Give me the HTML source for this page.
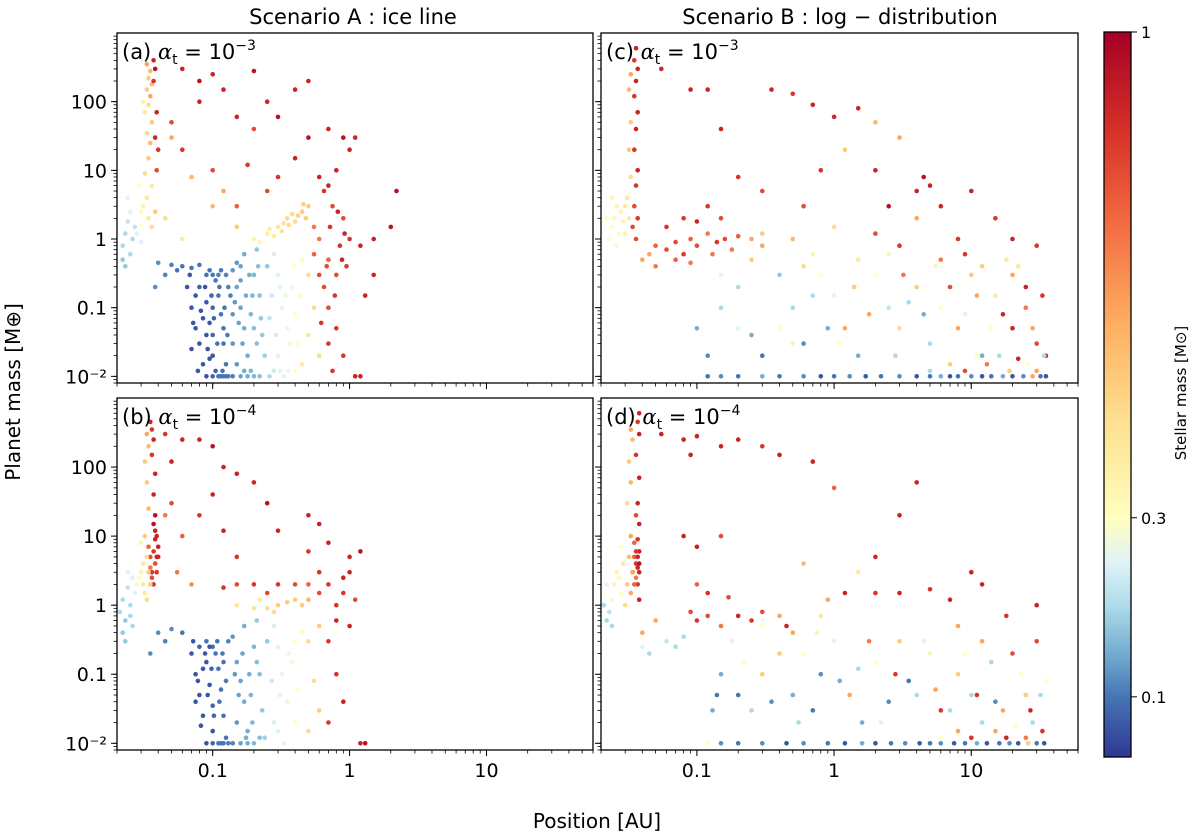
<!DOCTYPE html>
<html><head><meta charset="utf-8"><style>
html,body{margin:0;padding:0;background:#fff;}
svg{display:block;font-family:"DejaVu Sans","Liberation Sans",sans-serif;}
</style></head><body>
<svg id="chart" width="1200" height="840" viewBox="0 0 1200 840">
<text x="353" y="24" font-size="21" text-anchor="middle">Scenario A :  ice line</text>
<text x="840" y="24" font-size="21" text-anchor="middle">Scenario B :  log − distribution</text>
<text x="0" y="0" font-size="20" text-anchor="middle" transform="translate(20,392) rotate(-90)">Planet mass [M⊕]</text>
<text x="597" y="828" font-size="20" text-anchor="middle">Position [AU]</text>
<text x="0" y="0" font-size="15" text-anchor="middle" transform="translate(1186,393) rotate(-90)">Stellar mass [M⊙]</text>
<g id="layer"></g>
</svg>
<script>
// ---- data: [position AU, planet mass, stellar mass] ----
const panelA = [
[0.033,350,0.6],[0.035,280,0.55],[0.034,220,0.5],[0.036,180,0.55],[0.033,150,0.5],[0.035,120,0.6],[0.034,90,0.45],[0.032,70,0.4],[0.036,50,0.5],[0.033,35,0.45],[0.035,25,0.55],[0.034,15,0.5],[0.032,9,0.45],[0.036,6,0.4],[0.033,4,0.4],[0.031,3,0.35],[0.034,2,0.4],[0.03,1.6,0.3],[0.037,400,0.9],[0.038,300,0.95],[0.037,200,0.85],[0.039,70,0.9],[0.038,30,0.9],[0.04,20,0.85],[0.039,10,0.8],[0.036,1.5,0.45],[0.038,2.5,0.5],[0.03,0.9,0.25],[0.028,1.2,0.25],[0.03,2.5,0.32],[0.029,6,0.3],[0.031,100,0.35],
[0.022,0.8,0.2],[0.023,1.2,0.2],[0.024,1.8,0.22],[0.022,0.5,0.18],[0.025,2.5,0.25],[0.026,1,0.2],[0.023,0.4,0.18],[0.027,1.5,0.22],[0.025,0.6,0.2],[0.024,4,0.25],
[0.04,0.45,0.12],[0.05,0.42,0.11],[0.06,0.4,0.1],[0.045,0.3,0.11],[0.055,0.35,0.1],[0.07,0.38,0.1],[0.08,0.42,0.1],[0.038,0.2,0.12],
[0.065,0.2,0.09],[0.07,0.1,0.09],[0.075,0.05,0.09],[0.08,0.03,0.09],[0.085,0.015,0.09],[0.09,0.01,0.09],[0.08,0.2,0.095],[0.09,0.12,0.09],[0.095,0.06,0.09],[0.1,0.04,0.095],[0.1,0.02,0.09],[0.11,0.01,0.1],[0.12,0.01,0.1],[0.105,0.25,0.1],[0.11,0.15,0.1],[0.115,0.08,0.1],[0.12,0.03,0.1],[0.125,0.015,0.1],[0.13,0.2,0.11],[0.09,0.3,0.1],[0.1,0.3,0.1],[0.11,0.3,0.11],[0.075,0.15,0.09],[0.085,0.07,0.09],[0.095,0.018,0.09],[0.13,0.01,0.11],[0.14,0.01,0.11],[0.07,0.025,0.09],[0.09,0.04,0.09],[0.1,0.1,0.095],[0.12,0.05,0.1],[0.105,0.012,0.095],
[0.068,0.3,0.09],[0.072,0.06,0.09],[0.078,0.012,0.09],[0.082,0.09,0.09],[0.088,0.2,0.09],[0.092,0.025,0.09],[0.098,0.15,0.095],[0.102,0.07,0.095],[0.108,0.03,0.1],[0.112,0.2,0.1],[0.118,0.012,0.1],[0.122,0.1,0.1],[0.128,0.04,0.105],[0.135,0.15,0.11],[0.095,0.35,0.1],[0.115,0.35,0.105],[0.125,0.3,0.11],[0.1,0.01,0.095],[0.115,0.01,0.1],[0.125,0.01,0.1],
[0.14,0.35,0.13],[0.15,0.2,0.14],[0.16,0.1,0.14],[0.17,0.05,0.15],[0.18,0.02,0.15],[0.16,0.01,0.14],[0.18,0.01,0.15],[0.2,0.01,0.16],[0.2,0.3,0.16],[0.22,0.15,0.17],[0.19,0.08,0.16],[0.23,0.04,0.18],[0.25,0.4,0.18],[0.15,0.45,0.13],[0.17,0.6,0.15],[0.21,0.7,0.18],[0.24,0.02,0.19],[0.26,0.01,0.2],[0.14,0.03,0.13],[0.15,0.015,0.13],[0.16,0.25,0.14],[0.2,0.05,0.17],
[0.145,0.12,0.13],[0.155,0.06,0.14],[0.165,0.03,0.14],[0.175,0.15,0.15],[0.185,0.3,0.15],[0.195,0.15,0.16],[0.21,0.03,0.17],[0.215,0.4,0.17],[0.225,0.07,0.18],[0.17,0.012,0.15],[0.19,0.012,0.16],[0.22,0.01,0.17],[0.14,0.08,0.13],[0.16,0.4,0.14],
[0.3,0.3,0.25],[0.32,0.1,0.26],[0.35,0.05,0.27],[0.3,0.02,0.25],[0.33,0.01,0.26],[0.38,0.2,0.28],[0.4,0.08,0.3],[0.42,0.03,0.3],[0.28,0.6,0.24],[0.45,0.5,0.32],[0.36,0.012,0.27],[0.27,0.15,0.23],[0.4,0.012,0.3],
[0.26,0.07,0.22],[0.29,0.04,0.24],[0.31,0.2,0.25],[0.34,0.15,0.27],[0.37,0.03,0.28],[0.39,0.4,0.3],[0.43,0.15,0.31],[0.28,0.012,0.23],[0.31,0.012,0.25],
[0.2,1,0.35],[0.25,1.2,0.38],[0.3,1.5,0.42],[0.35,2,0.45],[0.4,1.8,0.45],[0.45,2.5,0.5],[0.5,3,0.5],[0.28,1.1,0.4],[0.38,2.3,0.45],[0.5,0.3,0.45],[0.55,0.1,0.45],[0.5,0.04,0.42],[0.6,0.02,0.45],[0.45,0.015,0.4],[0.33,1.7,0.42],
[0.22,0.9,0.33],[0.26,1.4,0.38],[0.32,1.3,0.42],[0.36,1.6,0.45],[0.42,2.2,0.48],[0.48,2,0.5],[0.46,3.2,0.5],
[0.6,1,0.7],[0.7,0.5,0.75],[0.8,0.3,0.8],[0.9,2,0.8],[1,1,0.85],[0.7,0.1,0.8],[0.8,0.05,0.85],[0.9,0.02,0.85],[1.1,0.01,0.9],[1.2,0.01,0.9],[0.65,5,0.85],[0.8,10,0.9],[1,20,0.9],[0.5,30,0.95],[0.6,8,0.9],[1.2,0.8,0.9],[1.5,1,0.9],[2,1.5,0.95],[2.2,5,0.95],[1.5,0.3,0.9],[0.75,3,0.8],[0.55,1.5,0.7],[0.95,0.4,0.85],[1.3,0.15,0.9],[0.55,0.6,0.75],[0.7,0.03,0.85],[0.85,0.8,0.85],[0.65,0.2,0.8],
[0.62,0.06,0.85],[0.68,0.4,0.8],[0.72,1.5,0.85],[0.78,0.15,0.85],[0.82,2.5,0.9],[0.88,0.5,0.9],[0.92,1.2,0.9],[0.75,0.012,0.85],[0.6,0.3,0.8],[0.7,6,0.9],
[0.06,300,0.9],[0.08,200,0.95],[0.1,250,0.9],[0.12,150,0.9],[0.15,60,0.9],[0.2,280,0.95],[0.25,100,0.9],[0.3,60,0.95],[0.4,150,0.9],[0.5,200,0.9],[0.7,40,0.9],[0.9,30,0.95],[0.06,20,0.85],[0.08,100,0.9],[0.18,12,0.85],[0.3,8,0.85],[0.4,15,0.9],[1.1,30,0.9],[0.2,40,0.8],[0.1,10,0.8],[0.15,3,0.75],[0.25,5,0.8],[0.05,50,0.8],
[0.05,30,0.6],[0.07,8,0.55],[0.1,3,0.55],[0.12,5,0.6],[0.15,1.5,0.5],[0.045,2,0.45],[0.06,1,0.4]
];
const panelB = [
[0.035,450,0.9],[0.036,350,0.85],[0.037,250,0.9],[0.036,150,0.85],[0.038,80,0.9],[0.037,40,0.9],[0.038,20,0.95],[0.039,10,0.9],[0.037,6,0.85],[0.038,4,0.8],[0.039,3,0.85],[0.036,2.5,0.8],[0.04,5,0.9],[0.038,12,0.9],[0.04,7,0.9],
[0.037,15,0.95],[0.038,9,0.9],[0.039,5,0.9],[0.036,3,0.85],[0.037,2,0.85],[0.035,5,0.8],[0.034,7,0.75],[0.035,3.5,0.7],
[0.033,300,0.6],[0.034,200,0.55],[0.032,120,0.5],[0.033,60,0.5],[0.034,25,0.55],[0.032,10,0.5],[0.033,5,0.45],[0.034,3,0.5],[0.031,2,0.4],[0.032,1.5,0.4],[0.035,2,0.5],[0.033,1.2,0.45],[0.03,3,0.35],[0.031,4,0.4],[0.03,8,0.35],[0.029,2.5,0.3],
[0.021,0.8,0.2],[0.022,1.2,0.2],[0.023,0.6,0.18],[0.024,1.8,0.22],[0.025,1,0.2],[0.026,2.5,0.25],[0.022,0.4,0.18],[0.023,0.3,0.18],[0.027,1.5,0.25],[0.025,0.7,0.2],[0.028,2,0.28],[0.026,0.5,0.2],[0.024,3,0.25],
[0.04,0.4,0.12],[0.05,0.45,0.12],[0.045,0.3,0.11],[0.06,0.4,0.1],[0.035,0.2,0.12],
[0.07,0.2,0.09],[0.075,0.1,0.09],[0.08,0.05,0.09],[0.085,0.025,0.09],[0.09,0.01,0.09],[0.08,0.25,0.095],[0.09,0.15,0.09],[0.095,0.07,0.09],[0.1,0.035,0.095],[0.1,0.015,0.09],[0.11,0.01,0.1],[0.12,0.01,0.1],[0.1,0.25,0.1],[0.11,0.12,0.1],[0.115,0.06,0.1],[0.12,0.025,0.1],[0.13,0.3,0.11],[0.09,0.3,0.1],[0.075,0.04,0.09],[0.085,0.12,0.09],[0.13,0.01,0.11],[0.105,0.2,0.1],[0.12,0.15,0.1],[0.14,0.01,0.11],
[0.072,0.3,0.09],[0.078,0.08,0.09],[0.082,0.018,0.09],[0.088,0.2,0.09],[0.092,0.05,0.09],[0.098,0.12,0.095],[0.102,0.025,0.095],[0.108,0.3,0.1],[0.112,0.04,0.1],[0.118,0.2,0.1],[0.125,0.08,0.105],[0.1,0.01,0.095],[0.115,0.01,0.1],[0.125,0.012,0.1],[0.095,0.25,0.09],
[0.14,0.35,0.13],[0.15,0.15,0.14],[0.16,0.08,0.14],[0.17,0.04,0.15],[0.18,0.015,0.15],[0.16,0.01,0.14],[0.2,0.01,0.16],[0.2,0.25,0.16],[0.22,0.1,0.17],[0.19,0.05,0.16],[0.23,0.03,0.18],[0.25,0.3,0.18],[0.17,0.5,0.15],[0.24,0.012,0.19],[0.15,0.02,0.13],[0.21,0.6,0.18],
[0.145,0.1,0.13],[0.155,0.05,0.14],[0.165,0.2,0.14],[0.175,0.012,0.15],[0.185,0.1,0.15],[0.195,0.02,0.16],[0.21,0.15,0.17],[0.22,0.012,0.17],[0.18,0.01,0.15],
[0.3,0.25,0.25],[0.32,0.1,0.26],[0.35,0.04,0.27],[0.3,0.015,0.25],[0.33,0.01,0.26],[0.38,0.15,0.28],[0.42,0.06,0.3],[0.28,0.5,0.24],[0.45,0.4,0.32],[0.4,0.02,0.3],
[0.27,0.08,0.23],[0.31,0.05,0.25],[0.36,0.2,0.27],[0.4,0.3,0.3],[0.28,0.02,0.24],
[0.15,1,0.4],[0.2,0.9,0.42],[0.25,0.9,0.45],[0.3,1,0.5],[0.35,1.1,0.5],[0.4,1.2,0.5],[0.5,1.2,0.55],[0.28,0.8,0.45],[0.22,1.2,0.4],[0.45,1,0.5],[0.5,0.3,0.45],[0.55,0.08,0.45],[0.6,0.03,0.5],[0.5,0.015,0.45],[0.6,0.5,0.5],
[0.5,2,0.75],[0.6,1.5,0.8],[0.7,2,0.85],[0.8,1,0.85],[0.9,2.5,0.9],[1,0.5,0.9],[0.7,0.3,0.85],[0.8,0.1,0.85],[0.9,0.04,0.9],[1.2,0.01,0.9],[1.3,0.01,0.95],[0.7,0.02,0.85],[1,3,0.9],[1.2,6,0.95],[0.9,1.5,0.85],[1.1,1.2,0.8],[0.4,2,0.8],[0.3,2,0.85],[0.25,1.5,0.8],[0.2,2,0.85],[0.15,2,0.8],[0.12,1.8,0.85],[0.6,3,0.85],[0.8,0.6,0.9],
[0.045,300,0.85],[0.05,120,0.9],[0.06,250,0.9],[0.08,250,0.9],[0.1,200,0.95],[0.12,100,0.9],[0.15,80,0.9],[0.2,60,0.9],[0.25,30,0.95],[0.3,12,0.9],[0.1,40,0.9],[0.08,20,0.85],[0.12,12,0.9],[0.5,20,0.9],[0.6,15,0.9],[0.7,8,0.9],[0.5,6,0.85],[1,5,0.9],[0.15,5,0.85],[0.05,30,0.8],[0.06,10,0.75],[0.055,3,0.7],[0.045,20,0.7],[0.07,2,0.65]
];
const panelC = [
[0.036,600,0.9],[0.035,400,0.85],[0.037,300,0.9],[0.036,200,0.9],[0.035,120,0.85],[0.037,70,0.9],[0.036,40,0.9],[0.035,20,0.85],[0.037,10,0.9],[0.036,6,0.85],[0.035,3,0.8],[0.037,2,0.85],[0.034,1.5,0.8],[0.036,1,0.8],[0.033,250,0.6],[0.032,150,0.55],[0.033,50,0.5],[0.032,20,0.5],[0.033,8,0.45],[0.031,4,0.4],[0.032,2,0.4],
[0.024,1.5,0.3],[0.025,2,0.32],[0.026,3,0.35],[0.027,1.2,0.3],[0.028,2.5,0.35],[0.023,1,0.28],[0.022,2,0.3],[0.029,1.8,0.35],[0.03,3,0.4],[0.024,4,0.35],[0.026,0.8,0.28],[0.03,1.2,0.35],
[0.045,0.6,0.6],[0.05,0.8,0.75],[0.06,0.7,0.8],[0.07,0.9,0.8],[0.08,0.6,0.85],[0.09,1,0.75],[0.1,0.8,0.8],[0.12,1.2,0.7],[0.14,0.9,0.85],[0.16,1,0.8],[0.2,1.1,0.75],[0.25,1,0.6],[0.3,1.2,0.5],[0.06,1.5,0.85],[0.08,2,0.85],[0.1,1.8,0.9],[0.12,3,0.85],[0.15,2,0.8],[0.05,0.4,0.7],[0.07,0.5,0.75],[0.09,0.45,0.7],[0.04,0.5,0.6],[0.13,0.6,0.7],[0.18,0.7,0.7],
[0.055,300,0.9],[0.09,150,0.9],[0.12,150,0.9],[0.15,40,0.9],[0.2,8,0.85],[0.35,150,0.9],[0.5,130,0.85],[0.7,90,0.9],[1,60,0.9],[1.5,80,0.9],[2,10,0.9],[2.5,3,0.95],[4,5,0.9],[5,6,0.9],[4.5,8,0.95],[6,3,0.9],[10,5,0.9],[20,1,0.9],[3,30,0.6],[2,50,0.55],[1.2,20,0.5],[0.8,10,0.85],[0.3,5,0.8],[0.6,3,0.8],
[0.1,0.05,0.15],[0.12,0.02,0.12],[0.15,0.1,0.2],[0.2,0.05,0.25],[0.3,0.02,0.1],[0.4,0.05,0.3],[0.5,0.1,0.2],[0.6,0.03,0.12],[0.8,0.3,0.3],[1,0.15,0.25],[1.2,0.05,0.6],[1.5,0.02,0.15],[2,0.3,0.3],[2.5,0.1,0.22],[3,0.05,0.45],[4,0.2,0.5],[5,0.03,0.2],[6,0.1,0.3],[8,0.05,0.6],[10,0.3,0.5],[12,0.02,0.15],[15,0.15,0.4],[20,0.05,0.9],[25,0.1,0.7],[30,0.03,0.8],[35,0.02,0.9],
[0.3,0.8,0.6],[0.5,1,0.55],[0.7,0.6,0.35],[1,1.5,0.45],[1.5,0.5,0.4],[2,1.2,0.8],[3,0.8,0.85],[4,2,0.6],[6,0.5,0.7],[8,1,0.85],[12,0.4,0.5],[15,2,0.85],[20,0.3,0.6],[30,0.8,0.85],[25,0.2,0.9],
[0.12,0.01,0.1],[0.15,0.01,0.12],[0.2,0.01,0.1],[0.3,0.01,0.15],[0.4,0.01,0.1],[0.6,0.01,0.12],[0.8,0.01,0.09],[1,0.01,0.1],[1.3,0.01,0.12],[1.7,0.01,0.09],[2.2,0.01,0.1],[3,0.01,0.12],[4,0.01,0.09],[5,0.01,0.1],[6,0.01,0.15],[7,0.01,0.09],[8,0.01,0.1],[10,0.01,0.12],[12,0.01,0.09],[14,0.01,0.1],[17,0.01,0.15],[20,0.01,0.09],[24,0.01,0.12],[28,0.01,0.6],[32,0.01,0.1],[35,0.01,0.09],
[5,0.012,0.2],[7,0.015,0.5],[9,0.012,0.8],[11,0.02,0.3],[13,0.015,0.7],[16,0.02,0.2],[19,0.012,0.5],[22,0.018,0.9],[26,0.015,0.3],[30,0.012,0.6],[34,0.02,0.2],[0.2,0.2,0.2],[0.25,0.04,0.15],[0.5,0.03,0.35],[0.9,0.05,0.15],[1.8,0.08,0.6],[3.5,0.12,0.2],[0.15,0.3,0.25],[0.4,0.3,0.18],
[0.7,0.15,0.2],[1.1,0.03,0.3],[1.4,0.2,0.5],[2.8,0.02,0.2],[3.2,0.3,0.7],[4.5,0.08,0.15],[5.5,0.4,0.35],[7,0.2,0.8],[9,0.08,0.25],[11,0.15,0.6],[14,0.05,0.3],[17,0.08,0.9],[22,0.4,0.4],[28,0.05,0.6],[33,0.15,0.85],[0.25,0.5,0.5],[0.6,0.4,0.45],[2.5,0.6,0.35],[9,0.6,0.85],[18,0.5,0.4]
];
const panelD = [
[0.038,600,0.9],[0.037,450,0.85],[0.038,300,0.9],[0.036,150,0.85],[0.038,70,0.9],[0.037,30,0.9],[0.038,15,0.9],[0.037,9,0.85],[0.038,6,0.9],[0.036,4,0.85],[0.038,3,0.9],[0.037,2,0.85],[0.038,1.2,0.9],[0.036,20,0.8],[0.035,8,0.75],[0.035,5,0.75],[0.036,2.5,0.7],
[0.037,5,0.9],[0.038,4,0.95],[0.036,6,0.85],[0.037,3.5,0.9],[0.035,2,0.75],[0.034,3,0.7],
[0.033,350,0.6],[0.034,250,0.55],[0.032,120,0.5],[0.033,60,0.55],[0.031,30,0.45],[0.033,10,0.6],[0.032,5,0.55],[0.034,3,0.6],[0.033,1.5,0.6],[0.031,2,0.5],
[0.025,2,0.35],[0.026,3,0.35],[0.027,2.5,0.32],[0.028,1.5,0.3],[0.029,4,0.4],[0.024,1.2,0.28],[0.023,0.8,0.22],[0.022,2,0.25],[0.021,1,0.2],[0.022,0.6,0.2],[0.03,1,0.45],[0.028,7,0.3],[0.024,0.5,0.2],
[0.04,0.4,0.6],[0.05,0.6,0.6],[0.06,0.3,0.22],[0.07,0.25,0.2],[0.04,0.25,0.25],[0.045,0.2,0.2],[0.08,0.35,0.2],[0.09,0.8,0.8],[0.1,0.6,0.85],[0.12,0.7,0.8],[0.15,0.5,0.7],[0.2,0.7,0.9],[0.25,0.6,0.85],[0.3,0.8,0.8],[0.4,0.7,0.6],[0.45,0.5,0.9],[0.5,0.4,0.6],[0.12,1.5,0.85],[0.17,1.3,0.8],[0.1,2,0.75],
[0.055,300,0.9],[0.08,250,0.9],[0.09,150,0.9],[0.1,280,0.9],[0.15,200,0.9],[0.2,250,0.9],[0.3,200,0.85],[0.4,150,0.9],[0.7,120,0.9],[1,50,0.75],[0.08,10,0.9],[0.1,7,0.9],[0.15,10,0.8],[2,5,0.9],[3,20,0.9],[4,60,0.9],[10,3,0.9],[0.6,4,0.55],[1.2,1.5,0.9],[2,1.5,0.85],[3,1.5,0.9],[5,1.7,0.85],[7,1.2,0.9],[12,2,0.9],[30,1,0.9],[0.9,1.2,0.6],[1.5,3,0.4],
[0.15,0.1,0.15],[0.2,0.05,0.1],[0.25,0.03,0.2],[0.3,0.1,0.5],[0.5,0.05,0.15],[0.6,0.2,0.3],[0.8,0.1,0.12],[1,0.3,0.25],[1.3,0.05,0.6],[1.6,0.02,0.15],[2,0.15,0.3],[2.5,0.04,0.12],[3,0.3,0.5],[4,0.05,0.2],[5,0.2,0.35],[6,0.03,0.85],[8,0.1,0.5],[10,0.05,0.2],[12,0.3,0.6],[15,0.04,0.12],[20,0.2,0.8],[25,0.05,0.5],[30,0.3,0.8],[35,0.08,0.3],[18,0.7,0.85],[8,0.5,0.6],
[0.12,0.01,0.3],[0.15,0.01,0.12],[0.2,0.01,0.1],[0.3,0.01,0.12],[0.45,0.01,0.09],[0.6,0.01,0.12],[0.9,0.01,0.1],[1.2,0.01,0.09],[1.6,0.01,0.15],[2,0.01,0.09],[2.6,0.01,0.1],[3.3,0.01,0.12],[4.2,0.01,0.09],[5,0.01,0.1],[6,0.01,0.12],[7.5,0.01,0.09],[9,0.01,0.1],[11,0.01,0.15],[13,0.01,0.09],[16,0.01,0.1],[19,0.01,0.12],[22,0.01,0.09],[26,0.01,0.5],[30,0.01,0.1],[34,0.01,0.09],
[6,0.012,0.3],[8,0.015,0.6],[10,0.012,0.85],[12,0.02,0.2],[15,0.015,0.6],[18,0.012,0.9],[21,0.018,0.3],[25,0.012,0.7],[28,0.02,0.2],[33,0.015,0.85],[0.14,0.05,0.1],[0.18,0.3,0.25],[0.35,0.04,0.12],[0.7,0.03,0.1],[1.5,0.12,0.2],[3.5,0.08,0.1],
[0.13,0.03,0.15],[0.22,0.15,0.3],[0.4,0.2,0.5],[0.55,0.02,0.2],[0.75,0.4,0.35],[1.1,0.08,0.15],[1.8,0.3,0.7],[2.2,0.02,0.25],[2.8,0.1,0.85],[4.5,0.3,0.25],[5.5,0.06,0.6],[7,0.03,0.2],[9,0.2,0.3],[11,0.05,0.85],[14,0.15,0.2],[17,0.03,0.6],[23,0.1,0.3],[27,0.03,0.9],[32,0.05,0.2],[0.3,0.5,0.3],[0.8,0.7,0.4]
];
const xTickLabels = ["0.1","1","10"];
const xTickValues = [0.1,1,10];
const yTickValues = [0.01,0.1,1,10,100];
const yTickLabels = ["10⁻²","0.1","1","10","100"];
const cbTickValues = [0.1,0.3,1];
const cbTickLabels = ["0.1","0.3","1"];
const panelLabels = ["(a)","(b)","(c)","(d)"];
const panelExps = ["−3","−4","−3","−4"];

const NS = "http://www.w3.org/2000/svg";
const layer = document.getElementById('layer');
function mk(tag, attrs, parent){const e=document.createElementNS(NS,tag);for(const k in attrs)e.setAttribute(k,attrs[k]);(parent||layer).appendChild(e);return e;}

const XMIN=Math.log10(0.02), XMAX=Math.log10(60), YMIN=Math.log10(0.008), YMAX=Math.log10(1000);
const panels=[
 {x:117,y:33,w:476,h:350,data:panelA,xl:false,yl:true},
 {x:117,y:398,w:476,h:352,data:panelB,xl:true,yl:true},
 {x:601,y:33,w:477,h:350,data:panelC,xl:false,yl:false},
 {x:601,y:398,w:477,h:352,data:panelD,xl:true,yl:false}
];
const stops=["#313695","#4575b4","#74add1","#abd9e9","#e0f3f8","#ffffbf","#fee090","#fdae61","#f46d43","#d73027","#a50026"];
function hex(h){return [1,3,5].map(i=>parseInt(h.substr(i,2),16));}
function cmap(t){t=Math.max(0,Math.min(1,t));const f=t*10,i=Math.min(9,Math.floor(f)),r=f-i;const a=hex(stops[i]),b=hex(stops[i+1]);return "rgb("+a.map((v,k)=>Math.round(v+(b[k]-v)*r)).join(",")+")";}
// position on colorbar (fraction from bottom) for stellar mass
const knM=[0.08,0.1,0.3,1], knT=[0,0.083,0.33,1];
function interp(v,xs,ys){if(v<=xs[0])return ys[0];for(let i=0;i<xs.length-1;i++){if(v<=xs[i+1]){const r=(v-xs[i])/(xs[i+1]-xs[i]);return ys[i]+r*(ys[i+1]-ys[i]);}}return ys[ys.length-1];}
function norm(m){return interp(m,knM,knT);}
// colour index along colorbar position
const posK=[0,0.083,0.33,1], colK=[0,0.1,0.5,1];
function colorAt(f){return cmap(interp(f,posK,colK));}

const minorX=[];for(let d=-2;d<=1;d++)for(let k=1;k<10;k++){const v=k*Math.pow(10,d);if(v>=0.02&&v<=60)minorX.push(v);}
const minorY=[];for(let d=-3;d<=2;d++)for(let k=1;k<10;k++){const v=k*Math.pow(10,d);if(v>=0.008&&v<=1000)minorY.push(v);}

panels.forEach((p,pi)=>{
 const sx=v=>p.x+(Math.log10(v)-XMIN)/(XMAX-XMIN)*p.w;
 const sy=v=>p.y+p.h-(Math.log10(v)-YMIN)/(YMAX-YMIN)*p.h;
 const g=mk('g',{});
 
 
 const cp=mk('clipPath',{id:'cp'+pi},g);mk('rect',{x:p.x,y:p.y,width:p.w,height:p.h},cp);
 const pts=mk('g',{'clip-path':'url(#cp'+pi+')'},g);
 p.data.forEach(d=>{
  const c=mk('circle',{cx:sx(d[0]).toFixed(1),cy:sy(d[1]).toFixed(1),r:2.3,fill:colorAt(norm(d[2]))},pts);
  
  
 });
 minorX.forEach(v=>{const X=sx(v);mk('line',{x1:X,x2:X,y1:p.y+p.h,y2:p.y+p.h+3.5,stroke:'#000','stroke-width':0.8},g);});
 minorY.forEach(v=>{const Y=sy(v);mk('line',{x1:p.x,x2:p.x-3.5,y1:Y,y2:Y,stroke:'#000','stroke-width':0.8},g);});
 xTickValues.forEach((v,i)=>{const X=sx(v);mk('line',{x1:X,x2:X,y1:p.y+p.h,y2:p.y+p.h+6,stroke:'#000','stroke-width':1},g);
  if(p.xl){const t=mk('text',{x:X,y:p.y+p.h+27,'font-size':19,'text-anchor':'middle'},g);t.textContent=xTickLabels[i];}});
 yTickValues.forEach((v,i)=>{const Y=sy(v);mk('line',{x1:p.x,x2:p.x-6,y1:Y,y2:Y,stroke:'#000','stroke-width':1},g);
  if(p.yl){const t=mk('text',{x:p.x-10,y:Y+7,'font-size':19,'text-anchor':'end'},g);t.textContent=yTickLabels[i];}});
 mk('rect',{x:p.x,y:p.y,width:p.w,height:p.h,fill:'none',stroke:'#000','stroke-width':1.3},g);
 const lt=mk('text',{x:p.x+5,y:p.y+26,'font-size':21},g);
 
 
 lt.innerHTML=panelLabels[pi]+' <tspan font-style="italic" font-family="DejaVu Serif, serif">α</tspan><tspan font-size="14" dy="5">t</tspan><tspan dy="-5"> = 10</tspan><tspan font-size="14" dy="-9">'+panelExps[pi]+'</tspan>';
});

const cb={x:1104,y:32,w:27,h:725};
const cg=mk('g',{});


for(let i=0;i<cb.h;i++){const f=1-i/cb.h;mk('rect',{x:cb.x,y:cb.y+i,width:cb.w,height:1.2,fill:colorAt(f)},cg);}
mk('rect',{x:cb.x,y:cb.y,width:cb.w,height:cb.h,fill:'none',stroke:'#000','stroke-width':1.3},cg);
cbTickValues.forEach((v,i)=>{const Y=cb.y+cb.h*(1-norm(v));mk('line',{x1:cb.x+cb.w,x2:cb.x+cb.w+6,y1:Y,y2:Y,stroke:'#000','stroke-width':1},cg);
 const t=mk('text',{x:cb.x+cb.w+10,y:Y+6,'font-size':16},cg);t.textContent=cbTickLabels[i];});
</script>
</body></html>
